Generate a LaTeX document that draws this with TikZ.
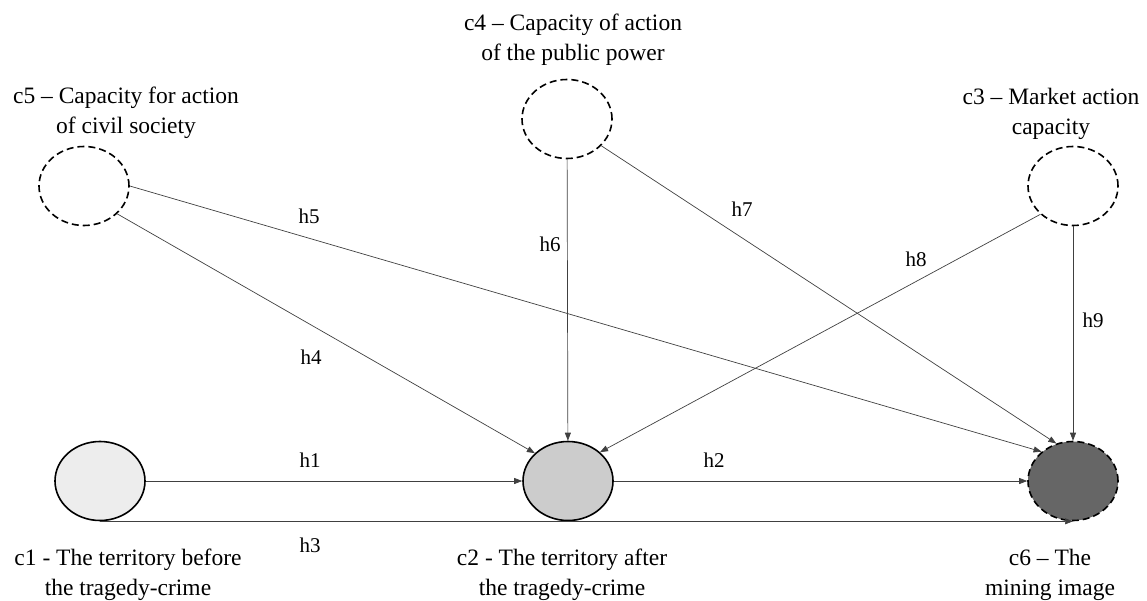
\documentclass[tikz,border=0pt]{standalone}
\usepackage{fontspec}
\setmainfont{Liberation Serif}
\usetikzlibrary{positioning,arrows.meta,shapes.geometric}

\begin{document}
\begin{tikzpicture}[x=1pt,y=-1pt,>={Triangle[length=8pt,width=6pt]},every node/.style={font=\fontsize{23.5}{30}\selectfont}]
\tikzstyle{cst}=[draw,ellipse,line width=1.6pt,minimum width=90pt,minimum height=79pt,inner sep=0pt]
\tikzstyle{lat}=[cst,dashed,dash pattern=on 7pt off 4pt]
\tikzstyle{arr}=[->,draw=black!75,line width=0.7pt]
\tikzstyle{hl}=[font=\fontsize{21}{24}\selectfont]
\tikzstyle{txt}=[align=center,inner sep=0pt]
\useasboundingbox (0,0) rectangle (1147,601);
% constructs
\node[cst,fill=black!7] (c1) at (100,481) {};
\node[cst,fill=black!20] (c2) at (568,481) {};
\node[lat,fill=black!60] (c6) at (1073,481) {};
\node[lat] (c5) at (84,186) {};
\node[lat] (c4) at (567,119) {};
\node[lat] (c3) at (1073,186) {};
% names
\node[txt] (t5) at (126,113) {c5 -- Capacity for action\\of civil society};
\node[txt] (t4) at (573,40) {c4 -- Capacity of action\\of the public power};
\node[txt] (t3) at (1051,114) {c3 -- Market action\\capacity};
\node[txt] (t1) at (128,575) {c1 - The territory before\\the tragedy-crime};
\node[txt] (t2) at (562,575) {c2 - The territory after\\the tragedy-crime};
\node[txt] (t6) at (1050,575) {c6 -- The\\mining image};
% hypotheses
\draw[arr] (c1) -- (c2);
\draw[arr] (c2) -- (c6);
\draw[arr] (c1.south) -- (c6.south);
\draw[arr] (c5.-40) -- (c2.140);
\draw[arr] (c5.east) -- (c6.137);
\draw[arr] (c4) -- (c2);
\draw[arr] (c4.-38) -- (c6.114);
\draw[arr] (c3.221) -- (c2.42);
\draw[arr] (c3) -- (c6);
\node[hl] (h1) at (310,460) {h1};
\node[hl] (h2) at (714,460) {h2};
\node[hl] (h3) at (310,545) {h3};
\node[hl] (h4) at (311,357) {h4};
\node[hl] (h5) at (309,216) {h5};
\node[hl] (h6) at (550,244) {h6};
\node[hl] (h7) at (742,209) {h7};
\node[hl] (h8) at (916,259) {h8};
\node[hl] (h9) at (1093,320) {h9};
\end{tikzpicture}
\end{document}
